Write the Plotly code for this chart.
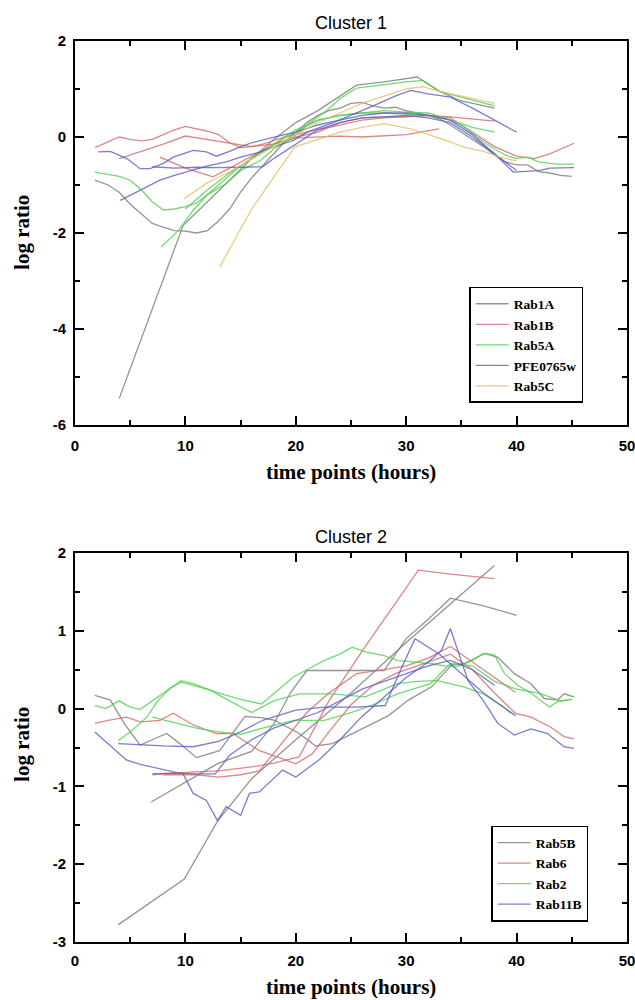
import plotly.graph_objects as go

# ---------------- Cluster 1 data ----------------
rab1a_x1 = [1.8, 3, 4, 5, 6, 7, 8, 9, 10, 11, 12, 13, 14, 15, 16, 17, 18, 19, 20, 21, 22, 23, 24, 25, 26, 27, 28, 29, 30, 31, 32, 33, 34, 35, 36, 37, 38, 39, 40, 41, 42, 43, 44, 45]
rab1a_y1 = [-0.9, -1.0, -1.15, -1.4, -1.6, -1.8, -1.88, -1.95, -1.96, -2.0, -1.95, -1.75, -1.5, -1.15, -0.85, -0.6, -0.35, -0.1, 0.1, 0.3, 0.45, 0.55, 0.6, 0.7, 0.72, 0.65, 0.6, 0.62, 0.55, 0.5, 0.45, 0.38, 0.25, 0.1, -0.05, -0.2, -0.38, -0.52, -0.58, -0.58, -0.72, -0.75, -0.8, -0.82]
rab1a_x2 = [4, 9.8, 12, 14, 16, 18, 20, 22, 24, 25.5, 28, 31, 33, 35, 38]
rab1a_y2 = [-5.45, -1.84, -1.35, -0.9, -0.45, -0.05, 0.3, 0.55, 0.85, 1.08, 1.15, 1.25, 0.95, 0.75, 0.6]

rab1b_x1 = [1.8, 3, 4, 5, 6, 7, 8, 9, 10, 11, 12, 13, 14, 15, 16, 17, 18, 19, 20, 21, 22, 24, 26, 28, 30, 32, 34, 36, 38, 40, 41.6, 43, 44, 45.2]
rab1b_y1 = [-0.22, -0.1, 0.0, -0.05, -0.08, -0.05, 0.05, 0.15, 0.22, 0.17, 0.12, 0.05, -0.12, -0.22, -0.2, -0.15, -0.08, 0.0, 0.05, 0.1, 0.15, 0.25, 0.35, 0.4, 0.42, 0.45, 0.4, 0.1, -0.2, -0.4, -0.45, -0.35, -0.25, -0.13]
rab1b_x2 = [4, 6, 8, 10, 12, 14, 16, 18, 20, 22, 24, 26, 28, 30, 32, 34, 36, 38]
rab1b_y2 = [-0.45, -0.3, -0.15, 0.02, -0.05, -0.12, -0.2, -0.15, 0.0, 0.1, 0.3, 0.4, 0.42, 0.42, 0.45, 0.42, 0.38, 0.33]
rab1b_x3 = [7.7, 9, 10, 11, 12.5, 14, 16, 18, 20, 22, 24, 26, 28, 30, 33]
rab1b_y3 = [-0.42, -0.55, -0.65, -0.72, -0.83, -0.65, -0.4, -0.15, -0.02, 0.0, 0.02, 0.0, 0.02, 0.05, 0.17]

rab5a_x1 = [1.8, 3, 4, 5, 6, 7, 8, 9, 10, 11, 12, 13, 14, 15, 16, 17, 18, 19, 20, 22, 24, 26, 28, 30, 32, 34, 35, 37, 38, 39, 40, 41, 42, 43, 44, 45.2]
rab5a_y1 = [-0.73, -0.78, -0.82, -0.9, -1.1, -1.35, -1.52, -1.5, -1.45, -1.38, -1.2, -1.0, -0.8, -0.6, -0.45, -0.3, -0.15, -0.02, 0.1, 0.35, 0.45, 0.5, 0.5, 0.48, 0.45, 0.35, 0.25, -0.1, -0.25, -0.38, -0.45, -0.42, -0.52, -0.55, -0.57, -0.56]
rab5a_x2 = [7.8, 9.4, 10.7, 12, 13.7, 15, 16.8, 18, 19.8, 21, 22.8, 24, 25.5, 28, 30, 31.5, 33, 35.5, 38]
rab5a_y2 = [-2.29, -1.94, -1.53, -1.2, -0.97, -0.7, -0.49, -0.25, 0.0, 0.25, 0.55, 0.8, 1.02, 1.1, 1.15, 1.18, 0.95, 0.8, 0.65]
rab5a_x3 = [10, 12, 14, 16, 18, 20, 22, 24, 26, 28, 30, 32, 34, 36, 38]
rab5a_y3 = [-1.5, -1.1, -0.75, -0.45, -0.15, 0.15, 0.35, 0.45, 0.5, 0.55, 0.52, 0.5, 0.35, 0.2, 0.1]

pfe_x1 = [2.1, 3.2, 4.7, 5.9, 6.8, 8, 8.9, 10, 10.7, 11.9, 12.8, 14, 14.9, 16, 16.8, 18.6, 20, 22, 24, 26, 28, 30, 32, 34, 36, 38, 39.7, 41, 42, 43, 44, 45.2]
pfe_y1 = [-0.31, -0.3, -0.45, -0.66, -0.66, -0.55, -0.42, -0.33, -0.28, -0.31, -0.4, -0.3, -0.21, -0.12, -0.07, 0.03, 0.1, 0.25, 0.35, 0.45, 0.5, 0.5, 0.45, 0.35, 0.05, -0.35, -0.73, -0.72, -0.7, -0.65, -0.64, -0.64]
pfe_x2 = [4.1, 6, 7.7, 9, 10.7, 12, 13.7, 15, 16.8, 18, 19.8, 21, 23.4, 25, 27, 29, 30.4, 32, 34, 36, 38, 40]
pfe_y2 = [-1.32, -1.1, -0.9, -0.8, -0.69, -0.6, -0.52, -0.42, -0.31, -0.2, -0.07, 0.1, 0.3, 0.45, 0.65, 0.85, 0.97, 0.9, 0.83, 0.6, 0.35, 0.1]
pfe_x3 = [7, 9, 11, 13, 15, 17, 18, 20, 22, 24, 26, 28, 30, 32, 34, 36, 38, 40]
pfe_y3 = [-0.62, -0.65, -0.63, -0.64, -0.63, -0.62, -0.45, -0.15, 0.15, 0.3, 0.4, 0.42, 0.45, 0.4, 0.3, 0.0, -0.35, -0.7]

rab5c_x1 = [9.9, 11, 12, 13.7, 15, 16.5, 18, 20, 22, 24, 26, 28, 30, 31.5, 33, 35, 37, 38]
rab5c_y1 = [-1.28, -1.1, -0.95, -0.76, -0.6, -0.4, -0.2, 0.05, 0.3, 0.5, 0.7, 0.85, 1.0, 1.05, 0.95, 0.85, 0.75, 0.7]
rab5c_x2 = [13.1, 16, 19.9, 22, 24, 26, 28, 30.4, 32, 34, 35.2, 37, 38.5, 40]
rab5c_y2 = [-2.71, -1.5, -0.21, -0.05, 0.1, 0.2, 0.28, 0.17, 0.05, -0.1, -0.21, -0.3, -0.42, -0.5]

# ---------------- Cluster 2 data ----------------
rab5b_x1 = [3.9, 9.9, 12.9, 16, 20, 25, 30, 34, 38]
rab5b_y1 = [-2.78, -2.19, -1.45, -0.9, -0.4, 0.2, 0.85, 1.35, 1.84]
rab5b_x2 = [6.9, 10, 13, 16, 18, 19.5, 21, 23, 25, 28, 30, 32, 34, 37, 40]
rab5b_y2 = [-1.2, -0.95, -0.7, -0.55, -0.2, 0.2, 0.49, 0.49, 0.49, 0.49, 0.9, 1.15, 1.42, 1.32, 1.2]
rab5b_x3 = [1.8, 3.2, 4.5, 5.9, 7, 8.3, 9.5, 11, 13.1, 15.4, 17, 18.1, 20.3, 21.8, 23.3, 25.7, 28.4, 30.2, 32.3, 34.1, 35.3, 37.1, 38.3, 39.8, 41.3, 42.5, 43.7, 44.3, 45.2]
rab5b_y3 = [0.17, 0.11, -0.2, -0.47, -0.4, -0.32, -0.45, -0.63, -0.54, -0.1, -0.12, -0.15, -0.32, -0.48, -0.45, -0.28, -0.09, 0.11, 0.28, 0.56, 0.58, 0.71, 0.66, 0.45, 0.32, 0.13, 0.11, 0.19, 0.15]

rab6_x1 = [7, 10, 13, 16, 18, 20.3, 23, 26.3, 29, 31.1, 34, 38]
rab6_y1 = [-0.85, -0.82, -0.8, -0.75, -0.7, -0.62, 0.1, 0.8, 1.35, 1.78, 1.73, 1.67]
rab6_x2 = [1.8, 3, 4.65, 5.9, 7.7, 8.9, 10.7, 12.8, 14.3, 16.7, 18.5, 20, 21.5, 23, 25, 27, 29, 31, 33, 34, 36, 38, 39.9, 41.3, 43.1, 44.3, 45.2]
rab6_y2 = [-0.19, -0.15, -0.11, -0.17, -0.15, -0.06, -0.21, -0.32, -0.32, -0.54, -0.63, -0.71, -0.58, -0.3, 0.05, 0.3, 0.45, 0.55, 0.65, 0.7, 0.5, 0.2, -0.06, -0.11, -0.24, -0.36, -0.39]
rab6_x3 = [8, 11, 13, 15, 16.7, 19, 21, 23, 25.5, 28, 30, 32, 34, 36, 38, 39.9]
rab6_y3 = [-0.85, -0.85, -0.88, -0.85, -0.8, -0.4, -0.05, 0.2, 0.45, 0.5, 0.55, 0.65, 0.8, 0.6, 0.4, 0.21]

rab2_x1 = [1.8, 2.8, 4, 5, 5.9, 7, 8.5, 9.6, 10.7, 12, 13.5, 15, 16.9, 18.5, 19.8, 21, 22.6, 24, 25.1, 26.3, 28, 29.2, 31, 32.2, 33.5, 34.6, 36, 37, 38, 38.9, 40.1, 41.3, 42.2, 43, 43.7, 45]
rab2_y1 = [0.04, 0.0, 0.1, 0.02, -0.01, 0.1, 0.25, 0.36, 0.32, 0.25, 0.18, 0.12, 0.06, 0.25, 0.41, 0.5, 0.62, 0.7, 0.79, 0.73, 0.68, 0.62, 0.6, 0.58, 0.55, 0.54, 0.62, 0.71, 0.69, 0.45, 0.3, 0.2, 0.1, 0.02, 0.09, 0.12]
rab2_x2 = [3.9, 5, 6.5, 7.5, 8.6, 9.6, 10.7, 12.2, 14, 16, 18, 20.3, 23.3, 26.3, 29.2, 31, 32.8, 35.2, 37, 38.5, 39.5]
rab2_y2 = [-0.41, -0.3, -0.11, 0.1, 0.26, 0.34, 0.3, 0.24, 0.1, -0.05, 0.1, 0.19, 0.19, 0.15, 0.32, 0.35, 0.36, 0.28, 0.19, 0.05, -0.06]
rab2_x3 = [7, 9, 11, 13, 15, 17, 19.8, 22.6, 25, 27, 29.2, 32.2, 34, 36, 38, 40, 42, 44, 45]
rab2_y3 = [-0.11, -0.18, -0.25, -0.3, -0.33, -0.25, -0.15, -0.15, -0.05, 0.05, 0.19, 0.32, 0.58, 0.55, 0.35, 0.25, 0.2, 0.1, 0.12]

rab11b_x1 = [1.8, 3, 4.65, 6, 7.7, 9.8, 10.7, 11.9, 12.9, 13.7, 15, 15.8, 16.7, 18.8, 20, 22.1, 24, 26, 28, 30, 32, 33.2, 34, 35.6, 37, 38.3, 39.8, 41.3, 42.8, 44.3, 45.2]
rab11b_y1 = [-0.3, -0.45, -0.66, -0.72, -0.77, -0.84, -1.09, -1.18, -1.44, -1.26, -1.37, -1.09, -1.07, -0.79, -0.88, -0.66, -0.4, -0.1, 0.15, 0.4, 0.6, 0.75, 1.03, 0.36, 0.1, -0.19, -0.34, -0.26, -0.32, -0.49, -0.51]
rab11b_x2 = [3.9, 6, 8, 10.7, 13, 15, 17, 20, 22.6, 25.5, 28.1, 29.5, 30.8, 33, 35, 37, 39.9]
rab11b_y2 = [-0.45, -0.47, -0.48, -0.49, -0.42, -0.3, -0.15, -0.02, 0.02, 0.02, 0.04, 0.5, 0.9, 0.7, 0.45, 0.2, -0.09]
rab11b_x3 = [7, 9, 11, 12.7, 14, 16, 18, 20, 22, 24, 26, 28, 30, 32, 34, 36, 38]
rab11b_y3 = [-0.84, -0.83, -0.84, -0.84, -0.6, -0.4, -0.25, -0.15, -0.05, 0.1, 0.25, 0.35, 0.45, 0.55, 0.62, 0.5, 0.3]

# tick labels
x_tickvals = [0, 10, 20, 30, 40, 50]
x_ticktext = ["0", "10", "20", "30", "40", "50"]
y1_tickvals = [-6, -4, -2, 0, 2]
y1_ticktext = ["-6", "-4", "-2", "0", "2"]
y2_tickvals = [-3, -2, -1, 0, 1, 2]
y2_ticktext = ["-3", "-2", "-1", "0", "1", "2"]

GRAY, RED, GREEN, BLUE, YELLOW = "#7a7a7a", "#d66a6a", "#4fd24f", "#5c5cc4", "#e6bf6a"

cluster1 = [
    ("Rab1A", GRAY, [(rab1a_x1, rab1a_y1), (rab1a_x2, rab1a_y2)]),
    ("Rab1B", RED, [(rab1b_x1, rab1b_y1), (rab1b_x2, rab1b_y2), (rab1b_x3, rab1b_y3)]),
    ("Rab5A", GREEN, [(rab5a_x1, rab5a_y1), (rab5a_x2, rab5a_y2), (rab5a_x3, rab5a_y3)]),
    ("PFE0765w", BLUE, [(pfe_x1, pfe_y1), (pfe_x2, pfe_y2), (pfe_x3, pfe_y3)]),
    ("Rab5C", YELLOW, [(rab5c_x1, rab5c_y1), (rab5c_x2, rab5c_y2)]),
]
cluster2 = [
    ("Rab5B", GRAY, [(rab5b_x1, rab5b_y1), (rab5b_x2, rab5b_y2), (rab5b_x3, rab5b_y3)]),
    ("Rab6", RED, [(rab6_x1, rab6_y1), (rab6_x2, rab6_y2), (rab6_x3, rab6_y3)]),
    ("Rab2", GREEN, [(rab2_x1, rab2_y1), (rab2_x2, rab2_y2), (rab2_x3, rab2_y3)]),
    ("Rab11B", BLUE, [(rab11b_x1, rab11b_y1), (rab11b_x2, rab11b_y2), (rab11b_x3, rab11b_y3)]),
]

fig = go.Figure()

def add_cluster(cluster, xa, ya, legend):
    for name, color, profiles in cluster:
        for i, (xs, ys) in enumerate(profiles):
            fig.add_trace(go.Scatter(
                x=xs, y=ys, mode="lines", name=name,
                line=dict(color=color, width=1.3), opacity=0.8,
                showlegend=(i == 0), xaxis=xa, yaxis=ya, legend=legend,
            ))

add_cluster(cluster1, "x", "y", "legend")
add_cluster(cluster2, "x2", "y2", "legend2")

tickfont = dict(family="Liberation Sans", size=15, color="black", weight="bold")
axis_common = dict(
    showline=True, linewidth=2, linecolor="black", mirror="allticks",
    ticks="inside", ticklen=9, tickwidth=2, tickcolor="black",
    showgrid=False, zeroline=False, tickfont=tickfont, automargin=False,
    ticklabeloverflow="allow",
)
xminor = dict(dtick=5, tick0=0, ticks="inside", ticklen=5, tickwidth=1.5, tickcolor="black")

fig.update_layout(
    width=635, height=1000,
    margin=dict(l=75, r=8, t=41, b=58),
    paper_bgcolor="white", plot_bgcolor="white",
    xaxis=dict(domain=[0, 1], anchor="y", range=[0, 50], tickvals=x_tickvals, ticktext=x_ticktext,
               minor=xminor, ticklabelstandoff=6, **axis_common),
    yaxis=dict(domain=[0.5738, 1], anchor="x", range=[-6, 2], tickvals=y1_tickvals, ticktext=y1_ticktext,
               minor=dict(dtick=1, tick0=0, ticks="inside", ticklen=5, tickwidth=1.5, tickcolor="black"),
               ticklabelstandoff=4, **axis_common),
    xaxis2=dict(domain=[0, 1], anchor="y2", range=[0, 50], tickvals=x_tickvals, ticktext=x_ticktext,
                minor=xminor, ticklabelstandoff=4, **axis_common),
    yaxis2=dict(domain=[0, 0.4317], anchor="x2", range=[-3, 2], tickvals=y2_tickvals, ticktext=y2_ticktext,
                minor=dict(dtick=0.5, tick0=0, ticks="inside", ticklen=5, tickwidth=1.5, tickcolor="black"),
                ticklabelstandoff=4, **axis_common),
    legend=dict(x=0.714, y=0.727, xanchor="left", yanchor="top",
                bordercolor="black", borderwidth=1.5, bgcolor="white",
                font=dict(family="Liberation Serif", size=13.5, color="black", weight="bold"),
                tracegroupgap=0, itemwidth=33),
    legend2=dict(x=0.754, y=0.129, xanchor="left", yanchor="top",
                 bordercolor="black", borderwidth=1.5, bgcolor="white",
                 font=dict(family="Liberation Serif", size=13.5, color="black", weight="bold"),
                 tracegroupgap=0, itemwidth=33),
    showlegend=True,
)

title_font = dict(family="Liberation Sans", size=18, color="black")
label_font = dict(family="Liberation Serif", size=21, color="black", weight="bold")
annotations = [
    dict(text="Cluster 1", x=0.5, y=1.02, xref="paper", yref="paper", showarrow=False,
         xanchor="center", yanchor="middle", font=title_font),
    dict(text="Cluster 2", x=0.5, y=0.4495, xref="paper", yref="paper", showarrow=False,
         xanchor="center", yanchor="middle", font=title_font),
    dict(text="time points (hours)", x=0.5, y=0.5216, xref="paper", yref="paper", showarrow=False,
         xanchor="center", yanchor="middle", font=label_font),
    dict(text="time points (hours)", x=0.5, y=-0.0495, xref="paper", yref="paper", showarrow=False,
         xanchor="center", yanchor="middle", font=label_font),
    dict(text="log ratio", x=-0.096, y=0.787, xref="paper", yref="paper", showarrow=False,
         xanchor="center", yanchor="middle", textangle=-90, font=label_font),
    dict(text="log ratio", x=-0.096, y=0.2187, xref="paper", yref="paper", showarrow=False,
         xanchor="center", yanchor="middle", textangle=-90, font=label_font),
]
fig.update_layout(annotations=annotations)

fig.write_html("out.html", config={"displayModeBar": False})

# remove the browser's default 8px body margin so the figure sits at the page origin
with open("out.html", "r", encoding="utf-8") as f:
    html = f.read()
html = html.replace("<head>", "<head><style>html,body{margin:0;padding:0;overflow:hidden;}</style>", 1)
with open("out.html", "w", encoding="utf-8") as f:
    f.write(html)
